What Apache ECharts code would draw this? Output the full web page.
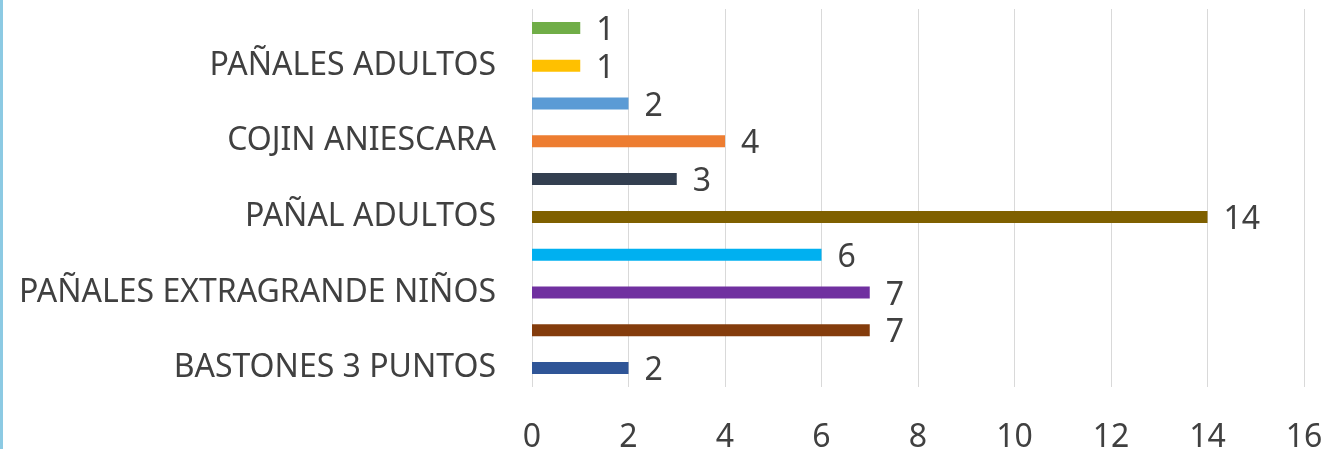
<!DOCTYPE html>
<html>
<head>
<meta charset="utf-8">
<script src="https://cdn.jsdelivr.net/npm/echarts@6/dist/echarts.min.js"></script>
<style>
    html, body { margin: 0; padding: 0; background: #fff; }
    #chart { width: 1324px; height: 449px; box-sizing: border-box; border-left: 3px solid #8ccae3; }
</style>
</head>
<body>
<div id="chart"></div>
<script>
// categorias de abajo hacia arriba (las vacias no muestran texto en el original)
const categorias = ['BASTONES 3 PUNTOS', '', 'PAÑALES EXTRAGRANDE NIÑOS', '', 'PAÑAL ADULTOS', '', 'COJIN ANIESCARA', '', 'PAÑALES ADULTOS', ''];
const cantidades = [2, 7, 7, 6, 14, 3, 4, 2, 1, 1];
const ticksX = [0, 2, 4, 6, 8, 10, 12, 14, 16];

// colores de cada barra, mismo orden que las categorias
const colores = ['#2f5597', '#843c0c', '#7030a0', '#00b0f0', '#7f6000', '#333f50', '#ed7d31', '#5b9bd5', '#ffc000', '#70ad47'];

var myChart = echarts.init(document.getElementById('chart'));

var option = {
    animation: false,
    textStyle: { fontFamily: 'Noto Sans' },
    grid: { left: 529, right: 20, top: 9, bottom: 62, outerBoundsMode: 'none' },
    xAxis: {
        type: 'value',
        min: ticksX[0],
        max: ticksX[ticksX.length - 1],
        interval: 2,
        axisLine: { show: false },
        axisTick: { show: false },
        splitLine: { lineStyle: { color: '#d9d9d9', width: 1 } },
        axisLabel: { fontSize: 32, color: '#404040', margin: 35 }
    },
    yAxis: {
        type: 'category',
        data: categorias,
        axisLine: { show: false },
        axisTick: { show: false },
        axisLabel: { interval: 1, fontSize: 32, color: '#404040', margin: 36 }
    },
    series: [{
        type: 'bar',
        data: cantidades,
        barWidth: 12,
        itemStyle: { color: p => colores[p.dataIndex] },
        label: {
            show: true,
            position: 'right',
            distance: 16,
            fontSize: 32,
            color: '#404040',
            offset: [0, 3]
        }
    }]
};

myChart.setOption(option);
</script>
</body>
</html>
